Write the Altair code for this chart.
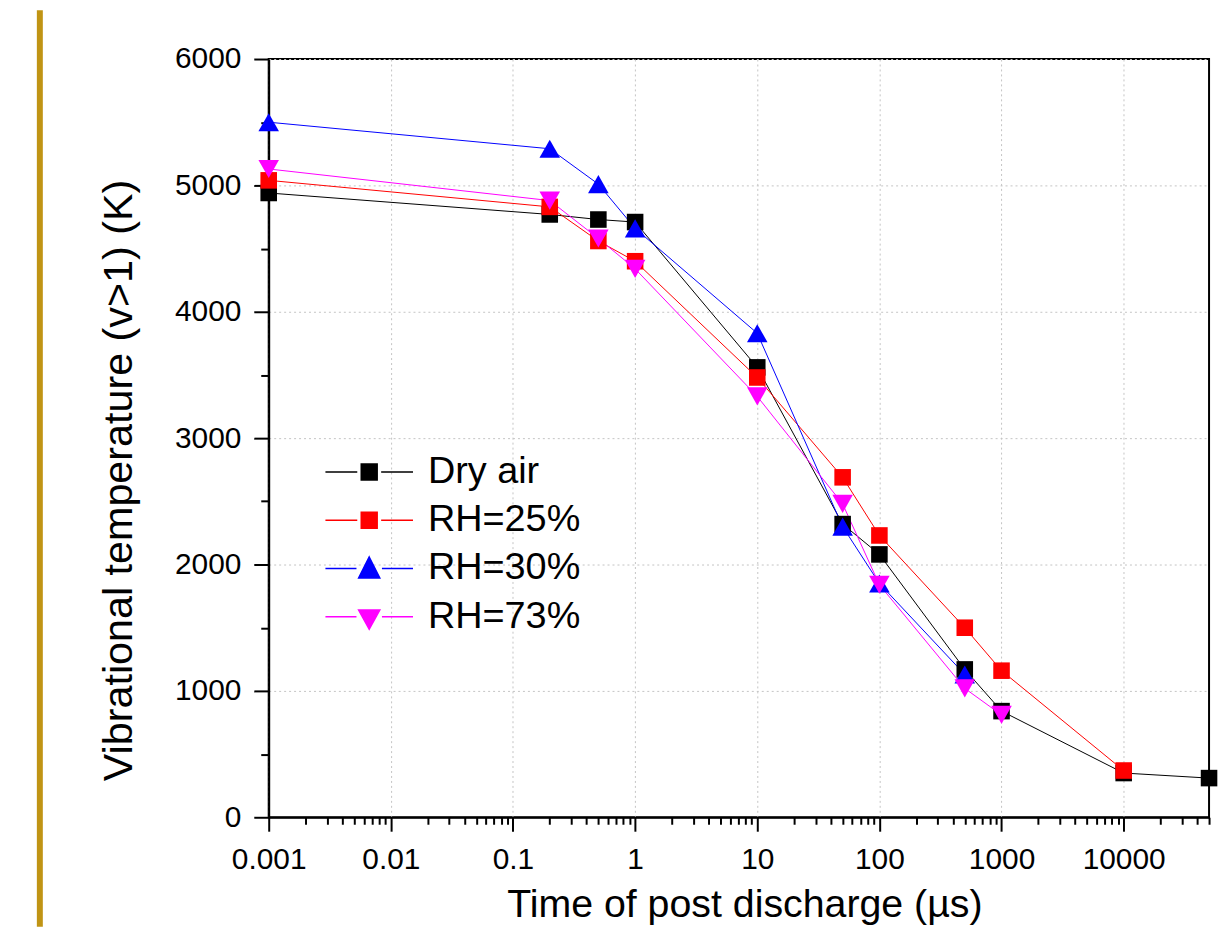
import altair as alt
import pandas as pd

series_names = ["Dry air", "RH=25%", "RH=30%", "RH=73%"]
series_colors = ["#000000", "#FF0000", "#0000FF", "#FF00FF"]
series_shapes = [
    "M-1.04,-1.04H1.04V1.04H-1.04Z",
    "M-1.04,-1.04H1.04V1.04H-1.04Z",
    "M0,-1.14L1.29,1.14L-1.29,1.14Z",
    "M-1.29,-1.14L1.29,-1.14L0,1.14Z",
]
legend_paths = [
    "M-5.5,0H-1.5M1.5,0H5.5M-1,-1H1V1H-1Z",
    "M-5.5,0H-1.5M1.5,0H5.5M-1,-1H1V1H-1Z",
    "M-5.5,0H-1.6M1.6,0H5.5M0,-1.45L1.33,1.2L-1.33,1.2Z",
    "M-5.5,0H-1.6M1.6,0H5.5M-1.33,-0.85L1.33,-0.85L0,1.55Z",
]

dry_time = [0.001, 0.2, 0.5, 1, 10, 50, 100, 500, 1000, 10000, 50000]
dry_temp = [4940, 4770, 4730, 4710, 3560, 2320, 2080, 1170, 840, 350, 310]
rh25_time = [0.001, 0.2, 0.5, 1, 10, 50, 100, 500, 1000, 10000]
rh25_temp = [5040, 4830, 4560, 4400, 3480, 2690, 2230, 1500, 1160, 370]
rh30_time = [0.001, 0.2, 0.5, 1, 10, 50, 100, 500]
rh30_temp = [5500, 5290, 5010, 4660, 3830, 2300, 1850, 1130]
rh73_time = [0.001, 0.2, 0.5, 1, 10, 50, 100, 500, 1000]
rh73_temp = [5130, 4880, 4580, 4340, 3330, 2480, 1840, 1020, 810]

x_major_ticks = [0.001, 0.01, 0.1, 1, 10, 100, 1000, 10000]
x_minor_ticks = [m * d for d in x_major_ticks for m in range(2, 10)] + [20000, 30000, 40000]
y_ticks = [0, 500, 1000, 1500, 2000, 2500, 3000, 3500, 4000, 4500, 5000, 5500, 6000]

rows = []
for name, ts, vs in zip(series_names,
                        [dry_time, rh25_time, rh30_time, rh73_time],
                        [dry_temp, rh25_temp, rh30_temp, rh73_temp]):
    for t, v in zip(ts, vs):
        rows.append({"series": name, "time": t, "temp": v})
df = pd.DataFrame(rows)

FONT = "Liberation Sans"
major_x = "abs(log(datum.value)/LN10 - round(log(datum.value)/LN10)) < 0.000001"
major_y = "datum.value % 1000 == 0"

x_axis = alt.Axis(
    values=sorted(x_major_ticks + x_minor_ticks),
    format="~r",
    labelExpr=f"({major_x}) ? datum.label : ''",
    tickSize={"condition": {"test": major_x, "value": 14}, "value": 7},
    gridOpacity={"condition": {"test": major_x, "value": 1}, "value": 0},
    labelPadding=13,
    labelFontSize=30,
    labelFont=FONT,
    labelColor="black",
    labelFlush=False,
    labelOverlap=False,
    title="Time of post discharge (µs)",
    titleFontSize=39.5,
    titleFont=FONT,
    titleFontWeight="normal",
    titleColor="black",
    titleX=478,
    titleY=100,
    titleBaseline="alphabetic",
    titleAnchor="middle",
)
y_axis = alt.Axis(
    values=y_ticks,
    format="d",
    labelExpr=f"({major_y}) ? datum.label : ''",
    tickSize={"condition": {"test": major_y, "value": 15}, "value": 8},
    gridOpacity={"condition": {"test": major_y, "value": 1}, "value": 0},
    labelPadding=13,
    labelFontSize=30,
    labelFont=FONT,
    labelColor="black",
    labelFlush=False,
    labelOverlap=False,
    title="Vibrational temperature (v>1) (K)",
    titleFontSize=41.5,
    titleFont=FONT,
    titleFontWeight="normal",
    titleColor="black",
    titleAngle=270,
    titleX=-138,
    titleY=423,
    titleBaseline="alphabetic",
    titleAnchor="middle",
)

x_enc = alt.X("time:Q", scale=alt.Scale(type="log", domain=[0.001, 50000], nice=False), axis=x_axis)
y_enc = alt.Y("temp:Q", scale=alt.Scale(domain=[0, 6000], nice=False), axis=y_axis)
color_scale = alt.Scale(domain=series_names, range=series_colors)

base = alt.Chart(df)

lines = base.mark_line(strokeWidth=1).encode(
    x=x_enc, y=y_enc,
    color=alt.Color("series:N", scale=color_scale, legend=None),
    detail="series:N",
)

points = base.mark_point(filled=True, opacity=1, size=256, strokeWidth=0).encode(
    x=x_enc, y=y_enc,
    color=alt.Color("series:N", scale=color_scale, legend=None),
    shape=alt.Shape("series:N", scale=alt.Scale(domain=series_names, range=series_shapes), legend=None),
)

legend_spec = alt.Legend(
    title=None,
    orient="none",
    legendX=82,
    legendY=396,
    padding=0,
    symbolSize=256,
    symbolStrokeWidth=1.5,
    labelFontSize=38,
    labelFont=FONT,
    labelColor="black",
    labelOffset=40,
    rowPadding=10.5,
    symbolOpacity=1,
)

legend_layer = base.transform_filter("false").mark_point(filled=True, opacity=1).encode(
    x=x_enc, y=y_enc,
    color=alt.Color("series:N", scale=color_scale, legend=legend_spec),
    stroke=alt.Stroke("series:N", scale=color_scale, legend=legend_spec),
    shape=alt.Shape("series:N", scale=alt.Scale(domain=series_names, range=legend_paths), legend=legend_spec),
)

bar = alt.Chart(pd.DataFrame({"a": [0]})).mark_rule(color="#C09414", strokeWidth=6).encode(
    x=alt.value(-230), y=alt.value(-49), y2=alt.value(872)
)

chart = alt.layer(bar, lines, points, legend_layer).resolve_scale(
    color="independent", shape="independent", stroke="independent"
).properties(
    width=945,
    height=762,
    padding={"left": 262, "top": 49, "right": 10, "bottom": 110},
    autosize=alt.AutoSizeParams(type="none"),
    background="white",
).configure_view(
    stroke="black", strokeWidth=2
).configure_axis(
    domainColor="black",
    domainWidth=2,
    tickColor="black",
    tickWidth=2,
    gridColor="#C4C4C4",
    gridDash=[2, 3],
    gridWidth=1,
)

chart.save("out.html", embed_options={"renderer": "svg", "actions": False})
